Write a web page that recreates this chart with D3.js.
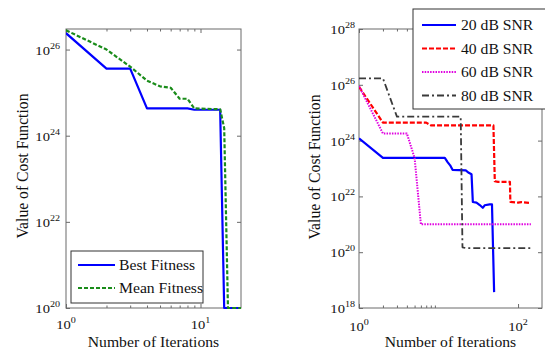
<!DOCTYPE html>
<html><head><meta charset="utf-8">
<script src="https://cdn.jsdelivr.net/npm/d3@7"></script>
<style>body{margin:0;background:#fff}svg{display:block}</style>
</head><body>
<svg id="c" width="545" height="351"></svg>
<script>
// ---------- data (left: fitness) ----------
const bestIter = [1, 2, 3, 4, 8, 9, 14, 15, 20];
const bestVal  = [2.4e26, 3.6e25, 3.6e25, 4.3e24, 4.3e24, 4.0e24, 4.0e24, 3e18, 3e18];
const meanIter = [1, 2, 3, 4, 5, 6, 7, 8, 9, 14, 15, 16, 20];
const meanVal  = [2.8e26, 1.0e26, 4.0e25, 1.9e25, 1.4e25, 1.3e25, 7.2e24, 7.2e24, 4.3e24, 4.1e24, 1.5e24, 1.5e19, 1.5e19];
const leftLegend = ["Best Fitness", "Mean Fitness"];
const leftXTicks = [1, 10];
const leftYTicks = [1e20, 1e22, 1e24, 1e26];

// ---------- data (right: SNR) ----------
const snr20Iter = [1, 2, 12, 13, 14, 15, 22, 24, 26, 27, 30, 33, 36, 38, 44, 47, 50];
const snr20Val  = [1.2e24, 2.4e23, 2.4e23, 1.7e23, 1.3e23, 9e22, 8.5e22, 7e22, 6.2e22, 6.3e21, 6e21, 4.9e21, 3.9e21, 4.8e21, 5.2e21, 5.2e21, 3.7e18];
const snr40Iter = [1, 2, 7, 8, 49, 51, 56, 79, 80, 100, 110, 145];
const snr40Val  = [8.5e25, 4.4e24, 4.4e24, 3.5e24, 3.5e24, 3.5e22, 3.3e22, 3.3e22, 6.4e21, 6.0e21, 6.2e21, 5.8e21];
const snr60Iter = [1, 2, 4, 5, 6, 145];
const snr60Val  = [9e25, 1.8e24, 1.8e24, 2.4e23, 1e21, 1e21];
const snr80Iter = [1, 2, 3, 19, 20, 22, 145];
const snr80Val  = [1.7e26, 1.7e26, 7.2e24, 7.2e24, 1.5e20, 1.4e20, 1.4e20];
const rightLegend = ["20 dB SNR", "40 dB SNR", "60 dB SNR", "80 dB SNR"];
const rightXTicks = [1, 100];
const rightYTicks = [1e18, 1e20, 1e22, 1e24, 1e26, 1e28];

// ---------- setup ----------
const svg = d3.select("#c");
const FONT = "'Liberation Serif','Times New Roman',serif";
const SX = 1.12;
const frameColor = "#6a6a6a";

function stext(g, x, y, str, size, anchor) {
  return g.append("text")
    .attr("transform", `translate(${x},${y}) scale(${SX},1)`)
    .attr("font-family", FONT).attr("font-size", size)
    .attr("text-anchor", anchor || "start").attr("fill", "#111")
    .text(str);
}
function powLabel(g, x, y, v, anchor) {
  const t = g.append("text")
    .attr("transform", `translate(${x},${y}) scale(${SX},1)`)
    .attr("font-family", FONT).attr("font-size", 13)
    .attr("text-anchor", anchor).attr("fill", "#111");
  t.append("tspan").text("10");
  t.append("tspan").attr("font-size", 9).attr("dy", -6).text(Math.round(Math.log10(v)));
}

function panel(cfg) {
  const {x, y, id, xTicks, yTicks, minorX} = cfg;
  const g = svg.append("g");
  const [x0, x1] = x.range(), [y0, y1] = y.range();
  svg.append("clipPath").attr("id", id).append("rect")
    .attr("x", x0).attr("y", y1 - 1).attr("width", x1 - x0 + 1).attr("height", y0 - y1 + 3);
  g.append("rect").attr("x", x0).attr("y", y1).attr("width", x1 - x0).attr("height", y0 - y1)
    .attr("fill", "#fff").attr("stroke", frameColor).attr("stroke-width", 1);
  const axG = g.append("g").attr("stroke", frameColor).attr("stroke-width", 1);
  const mk = (ax, tr) => {
    const a = axG.append("g").attr("transform", tr).call(ax);
    a.select(".domain").remove(); a.selectAll("text").remove();
    a.selectAll("line").attr("stroke", frameColor);
  };
  mk(d3.axisBottom(x).tickValues(xTicks).tickSizeInner(-4).tickSizeOuter(0), `translate(0,${y0})`);
  mk(d3.axisTop(x).tickValues(xTicks).tickSizeInner(-4).tickSizeOuter(0), `translate(0,${y1})`);
  mk(d3.axisBottom(x).tickValues(minorX).tickSizeInner(-2.5).tickSizeOuter(0), `translate(0,${y0})`);
  mk(d3.axisTop(x).tickValues(minorX).tickSizeInner(-2.5).tickSizeOuter(0), `translate(0,${y1})`);
  mk(d3.axisLeft(y).tickValues(yTicks).tickSizeInner(-4).tickSizeOuter(0), `translate(${x0},0)`);
  mk(d3.axisRight(y).tickValues(yTicks).tickSizeInner(-4).tickSizeOuter(0), `translate(${x1},0)`);
  const lab = svg.append("g");
  xTicks.forEach(v => powLabel(lab, x(v), cfg.xLabY, v, "middle"));
  yTicks.forEach(v => powLabel(lab, x0 - cfg.yLabGap, y(v) + 5, v, "end"));
  stext(lab, (x0 + x1) / 2, 347, "Number of Iterations", 14, "middle");
  lab.append("text")
    .attr("transform", `translate(${cfg.yTitleX},${cfg.yTitleY}) rotate(-90) scale(1.12,1.12)`)
    .attr("font-family", FONT).attr("font-size", 14).attr("text-anchor", "middle").attr("fill", "#111")
    .text("Value of Cost Function");
  const lines = svg.append("g").attr("clip-path", `url(#${id})`);
  cfg.series.forEach(s => {
    const pts = s.it.map((d, i) => [d, s.v[i]]);
    lines.append("path").attr("d", d3.line().x(d => x(d[0])).y(d => y(d[1]))(pts))
      .attr("fill", "none").attr("stroke", s.color).attr("stroke-width", s.w)
      .attr("stroke-dasharray", s.dash).attr("stroke-linejoin", "round");
  });
  return g;
}

function legend(cfg) {
  const g = svg.append("g");
  g.append("rect").attr("x", cfg.x).attr("y", cfg.y).attr("width", cfg.w).attr("height", cfg.h)
    .attr("fill", "#fff").attr("stroke", "#333").attr("stroke-width", 1);
  cfg.series.forEach((s, i) => {
    const cy = cfg.y + cfg.first + i * cfg.step;
    g.append("line").attr("x1", cfg.x + cfg.l0).attr("x2", cfg.x + cfg.l1).attr("y1", cy).attr("y2", cy)
      .attr("stroke", s.color).attr("stroke-width", s.w).attr("stroke-dasharray", s.dash);
    stext(g, cfg.x + cfg.tx, cy + 5, cfg.labels[i], 14, "start");
  });
}

// ---------- left panel ----------
const xL = d3.scaleLog().domain([1, 20]).range([66, 241]);
const yL = d3.scaleLog().domain([1e20, 3e26]).range([308, 29]).clamp(true);
const leftSeries = [
  {it: bestIter, v: bestVal, color: "#0000ff", w: 2.2, dash: null},
  {it: meanIter, v: meanVal, color: "#1a8c1a", w: 2.2, dash: "4,2"}
];
panel({x: xL, y: yL, id: "clipL", xTicks: leftXTicks, yTicks: leftYTicks,
  minorX: [2, 3, 4, 5, 6, 7, 8, 9], xLabY: 329, yLabGap: 6, yTitleX: 28, yTitleY: 166, series: leftSeries});
legend({x: 71, y: 251, w: 132, h: 52, first: 14, step: 23, l0: 7, l1: 44, tx: 48,
  series: leftSeries, labels: leftLegend});

// ---------- right panel ----------
const xR = d3.scaleLog().domain([1, 200]).range([359, 542]);
const yR = d3.scaleLog().domain([1e18, 1e28]).range([308, 29]);
const rightSeries = [
  {it: snr20Iter, v: snr20Val, color: "#0000ff", w: 2.2, dash: null},
  {it: snr40Iter, v: snr40Val, color: "#ff0000", w: 2.2, dash: "5,2"},
  {it: snr60Iter, v: snr60Val, color: "#e000e0", w: 2, dash: "1.5,1.2"},
  {it: snr80Iter, v: snr80Val, color: "#3a3a3a", w: 1.8, dash: "7,3,2,3"}
];
panel({x: xR, y: yR, id: "clipR", xTicks: rightXTicks, yTicks: rightYTicks,
  minorX: [2, 3, 4, 5, 6, 7, 8, 9], xLabY: 331, yLabGap: 4, yTitleX: 320, yTitleY: 167, series: rightSeries});
legend({x: 413, y: 9, w: 150, h: 100, first: 16, step: 23.5, l0: 9, l1: 43, tx: 48,
  series: rightSeries, labels: rightLegend});
</script>
</body></html>
